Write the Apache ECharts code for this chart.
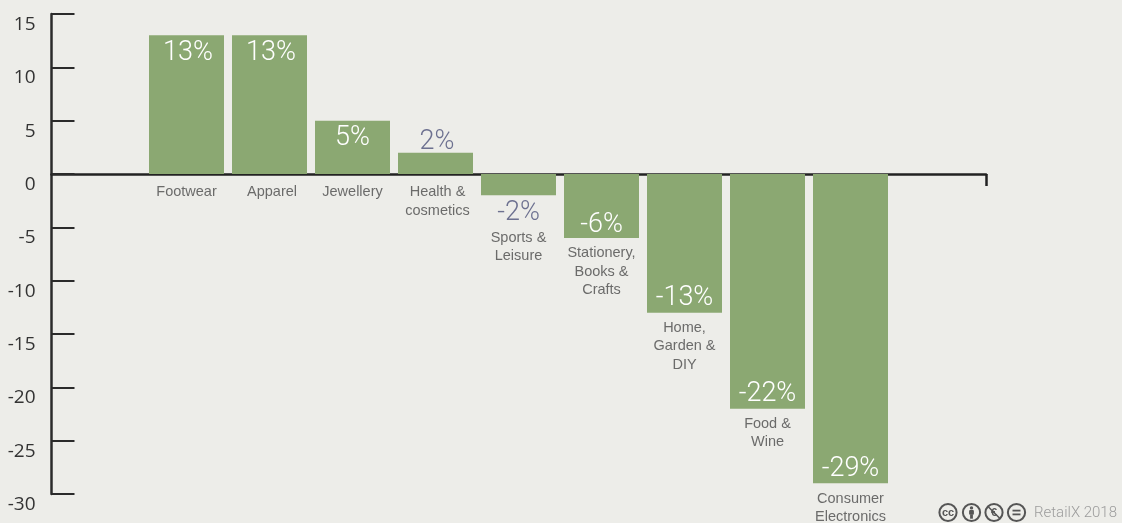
<!DOCTYPE html>
<html>
<head>
<meta charset="utf-8">
<style>
html,body{margin:0;padding:0;background:#edede9;}
#chart{width:1122px;height:523px;}
</style>
<script src="https://cdn.jsdelivr.net/npm/echarts@6/dist/echarts.min.js"></script>
</head>
<body>
<div id="chart"></div>
<script>
// Year-on-year change by retail sector, in percent
var categories = ['Footwear','Apparel','Jewellery','Health &\ncosmetics','Sports &\nLeisure','Stationery,\nBooks &\nCrafts','Home,\nGarden &\nDIY','Food &\nWine','Consumer\nElectronics'];
var values = [13,13,5,2,-2,-6,-13,-22,-29];
var yTicks = {min:-30,max:15,step:5};

var INK = '#2b2b2b';
var GREEN = '#8ba872';
var LIGHT = '"Roboto","Liberation Sans",sans-serif';
var BODY = '"Liberation Sans",sans-serif';

// Index range of the x axis: the bars sit in the middle, with empty room on both sides
var xMin = -1.6265, xMax = 9.6325;

// Small corrections for a few text labels
var nameShift = {1:2.5, 3:2};
var valueShift = {0:[1.5,0], 1:[1.5,0], 3:[1.5,3], 4:[0,3], 5:[0,2]};

function isSmall(v){ return Math.abs(v) < 5; }

var barData = values.map(function(v,i){
  var pos = isSmall(v) ? (v>0?'top':'bottom') : (v>0?'insideTop':'insideBottom');
  return {
    value:[i,v],
    label:{position:pos, color:isSmall(v)?'#6d7190':'#ffffff', distance:isSmall(v)?(v>0?0:1):(v>0?4:1), offset:valueShift[i]||[0,0]}
  };
});

var nameData = values.map(function(v,i){
  var dist = v>0 ? 9 : (isSmall(v) ? 33 : 6);
  return {
    value:[i, v<0 ? v : 0],
    name:categories[i],
    label:{distance:dist, offset:[nameShift[i]||0,0]}
  };
});

// Creative Commons badges and credit line in the bottom-right corner
function badge(cx,children){
  return {type:'group',x:cx,y:512.5,silent:true,children:[
    {type:'circle',shape:{cx:0,cy:0,r:8.6},style:{fill:'none',stroke:'#555',lineWidth:2}}
  ].concat(children)};
}
var badgeText = function(t,size,w){
  return {type:'text',x:0,y:0,style:{text:t,fill:'#555',fontSize:size,fontWeight:w||'bold',fontFamily:'"Liberation Sans"',align:'center',verticalAlign:'middle'}};
};
var credit = [
  badge(948,[badgeText('cc',11)]),
  badge(971.5,[
    {type:'circle',shape:{cx:0,cy:-4.6,r:1.7},style:{fill:'#555'}},
    {type:'rect',shape:{x:-2.4,y:-2.4,width:4.8,height:4.6,r:1},style:{fill:'#555'}},
    {type:'rect',shape:{x:-1.4,y:2,width:2.8,height:4.2},style:{fill:'#555'}}
  ]),
  badge(994,[badgeText('\u20ac',11),
    {type:'line',shape:{x1:-6,y1:-6,x2:6,y2:6},style:{stroke:'#555',lineWidth:1.5}}]),
  badge(1016.5,[
    {type:'rect',shape:{x:-4,y:-2.8,width:8,height:1.8},style:{fill:'#555'}},
    {type:'rect',shape:{x:-4,y:1,width:8,height:1.8},style:{fill:'#555'}}
  ]),
  {type:'text',x:1117,y:513,silent:true,style:{text:'RetailX 2018',fill:'#9c9c9c',fontSize:15,fontFamily:LIGHT,fontWeight:300,align:'right',verticalAlign:'middle'}}
];

var chart = echarts.init(document.getElementById('chart'),null,{renderer:'canvas'});
chart.setOption({
  backgroundColor:'#edede9',
  animation:false,
  grid:{left:51.5,top:14,width:934.5,height:480,containLabel:false},
  xAxis:{
    type:'value',min:xMin,max:xMax,
    splitLine:{show:false},
    axisLabel:{show:false},
    axisLine:{show:true,onZero:true,lineStyle:{color:'#222',width:2.5}},
    axisTick:{show:true,customValues:[xMax],length:12,inside:false,lineStyle:{color:'#222',width:2.5}}
  },
  yAxis:{
    type:'value',min:yTicks.min,max:yTicks.max,interval:yTicks.step,
    splitLine:{show:false},
    axisLine:{show:true,onZero:false,lineStyle:{color:INK,width:2.5}},
    axisTick:{show:true,inside:true,length:23,lineStyle:{color:INK,width:2}},
    axisLabel:{color:'#333',fontSize:19,fontFamily:'"Open Sans",sans-serif',margin:16,verticalAlign:'top',lineHeight:21}
  },
  series:[
    {
      type:'bar',data:barData,barWidth:75,silent:true,
      itemStyle:{color:GREEN},
      label:{show:true,fontSize:27,fontWeight:300,fontFamily:LIGHT,
        formatter:function(p){return p.value[1]+'%';}}
    },
    {
      type:'scatter',data:nameData,symbolSize:0,silent:true,z:3,
      label:{show:true,position:'bottom',align:'center',color:'#4a4a4a',fontSize:14.5,lineHeight:18.5,fontFamily:BODY,
        formatter:function(p){return p.name;}}
    }
  ],
  graphic:credit
});
</script>
</body>
</html>
